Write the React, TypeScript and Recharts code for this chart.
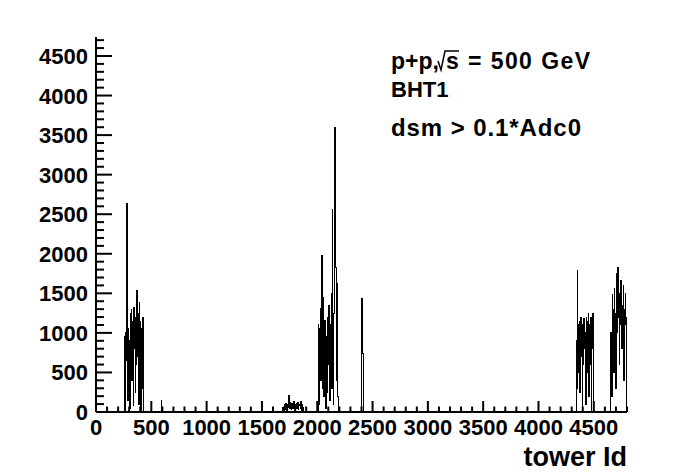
import React from "react";
import { LineChart, Line, XAxis, YAxis } from "recharts";

// tower Id histogram, 5-tower bins
const BIN = 5;
const X_MAX = 4800;
const Y_MAX = 4740;

const cluster1Start = 260;
const cluster1 = [
  950, 0, 1000, 650, 2640, 150, 1050, 550, 900, 50, 1250, 700, 1300, 400, 1150, 80,
  1320, 800, 1200, 250, 1100, 600, 1540, 700, 1250, 100, 1380, 650, 1150, 0, 1050,
  300, 1200, 0,
];

const cluster2Start = 1690;
const cluster2 = [
  60, 0, 40, 90, 30, 110, 70, 20, 100, 60, 210, 80, 40, 120, 90, 30, 110, 70, 50,
  130, 80, 20, 100, 60, 110, 40, 90, 120, 30, 80, 100, 50, 130, 70, 20, 90, 60, 0,
];

const cluster3Start = 2010;
const cluster3 = [
  1100, 100, 1050, 1310, 400, 1150, 1980, 300, 1050, 1450, 200, 1100, 1160, 50, 950,
  700, 250, 1200, 600, 1350, 1240, 150, 1100, 1500, 300, 2560, 1200, 100, 1250, 1800,
  3590, 1830, 400, 1620, 1240, 200, 100, 0,
];

const cluster4Start = 4335;
const cluster4 = [
  0, 900, 300, 1790, 800, 1100, 500, 1150, 250, 1200, 700, 1050, 0, 1100, 600, 1180,
  800, 1000, 100, 1200, 500, 1150, 700, 1240, 200, 1100, 600, 1200, 0, 1000, 800,
  1240, 400, 0,
];

const cluster5Start = 4650;
const cluster5 = [
  0, 1000, 200, 1480, 900, 1300, 500, 1560, 1100, 1250, 300, 1750, 1000, 1830, 1200,
  1400, 600, 1500, 1100, 1660, 800, 1350, 1000, 1600, 400, 1300, 1100, 1500, 1200,
];

const spikes: [number, number][] = [
  [590, 140],
  [2400, 1440],
  [2405, 1420],
  [2410, 740],
];

const xMajor = [0, 500, 1000, 1500, 2000, 2500, 3000, 3500, 4000, 4500];
const yMajor = [0, 500, 1000, 1500, 2000, 2500, 3000, 3500, 4000, 4500];
const xTicks = Array.from({ length: X_MAX / 100 + 1 }, (_, i) => i * 100);
const yTicks = Array.from({ length: 48 }, (_, i) => i * 100);

const counts = new Map<number, number>();
const addCluster = (start: number, vals: number[]) =>
  vals.forEach((v, i) => counts.set(start + i * BIN, v));
addCluster(cluster1Start, cluster1);
addCluster(cluster2Start, cluster2);
addCluster(cluster3Start, cluster3);
addCluster(cluster4Start, cluster4);
addCluster(cluster5Start, cluster5);
spikes.forEach(([t, v]) => counts.set(t, v));

const data = Array.from({ length: X_MAX / BIN + 1 }, (_, i) => ({
  tower: i * BIN,
  count: counts.get(i * BIN) ?? 0,
}));

const FONT = "'Liberation Sans', Arial, Helvetica, sans-serif";

const BottomTick = (props: any) => {
  const { x, y, payload } = props;
  const v = payload.value;
  const major = xMajor.includes(v);
  return (
    <g>
      <line x1={x} x2={x} y1={y} y2={y - (major ? 11 : 5.5)} stroke="#000" strokeWidth={2} />
      {major && (
        <text x={x} y={y + 23} textAnchor="middle" fontFamily={FONT} fontWeight="bold" fontSize={22} fill="#000">
          {v}
        </text>
      )}
    </g>
  );
};

const TopTick = (props: any) => {
  const { x, y, payload } = props;
  const major = payload.value % 500 === 0;
  return <line x1={x} x2={x} y1={y} y2={y + (major ? 11 : 5.5)} stroke="#000" strokeWidth={2} />;
};

const LeftTick = (props: any) => {
  const { x, y, payload } = props;
  const v = payload.value;
  const major = yMajor.includes(v);
  return (
    <g>
      <line x1={x} x2={x + (major ? 16 : 8)} y1={y} y2={y} stroke="#000" strokeWidth={2} />
      {major && (
        <text x={x - 8} y={y + 8} textAnchor="end" fontFamily={FONT} fontWeight="bold" fontSize={22} fill="#000">
          {v}
        </text>
      )}
    </g>
  );
};

const RightTick = (props: any) => {
  const { x, y, payload } = props;
  const major = payload.value % 500 === 0;
  return <line x1={x} x2={x - (major ? 16 : 8)} y1={y} y2={y} stroke="#000" strokeWidth={2} />;
};

export default function App() {
  return (
    <div style={{ position: "fixed", left: 0, top: 0, width: 696, height: 474, background: "#fff" }}>
      <LineChart width={696} height={474} data={data} margin={{ top: 37, right: 69, left: 0, bottom: 0 }}>
        <XAxis
          dataKey="tower"
          type="number"
          domain={[0, X_MAX]}
          ticks={xTicks}
          interval={0}
          height={62}
          tickSize={0}
          tickMargin={0}
          tickLine={false}
          tick={<BottomTick />}
          axisLine={{ stroke: "#000", strokeWidth: 2 }}
        />
        <XAxis
          xAxisId="top"
          orientation="top"
          dataKey="tower"
          type="number"
          domain={[0, X_MAX]}
          ticks={xTicks}
          interval={0}
          height={0}
          tickSize={0}
          tickMargin={0}
          tickLine={false}
          tick={<TopTick />}
          axisLine={{ stroke: "#000", strokeWidth: 2 }}
        />
        <YAxis
          type="number"
          domain={[0, Y_MAX]}
          ticks={yTicks}
          interval={0}
          width={96}
          tickSize={0}
          tickMargin={0}
          tickLine={false}
          tick={<LeftTick />}
          axisLine={{ stroke: "#000", strokeWidth: 2 }}
        />
        <YAxis
          yAxisId="right"
          orientation="right"
          type="number"
          domain={[0, Y_MAX]}
          ticks={yTicks}
          interval={0}
          width={0}
          tickSize={0}
          tickMargin={0}
          tickLine={false}
          tick={<RightTick />}
          axisLine={{ stroke: "#000", strokeWidth: 2 }}
        />
        <Line
          dataKey="count"
          type="stepAfter"
          stroke="#000"
          strokeWidth={1}
          dot={false}
          activeDot={false}
          isAnimationActive={false}
          shapeRendering="crispEdges"
        />
      </LineChart>
      <svg width={696} height={474} style={{ position: "absolute", left: 0, top: 0, pointerEvents: "none" }}>
        <g fontFamily={FONT} fontWeight="bold" fill="#000">
          <text x={391} y={69} fontSize={23}>p+p,</text>
          <polyline points="438,61 441,70 445,51 459,51" fill="none" stroke="#000" strokeWidth={1.5} />
          <text x={446} y={69} fontSize={23} textLength={144} lengthAdjust="spacing">s = 500 GeV</text>
          <text x={391} y={97} fontSize={22}>BHT1</text>
          <text x={391} y={136} fontSize={24} textLength={190} lengthAdjust="spacing">dsm &gt; 0.1*Adc0</text>
          <text x={627} y={466} textAnchor="end" fontSize={27}>tower Id</text>
        </g>
      </svg>
    </div>
  );
}
